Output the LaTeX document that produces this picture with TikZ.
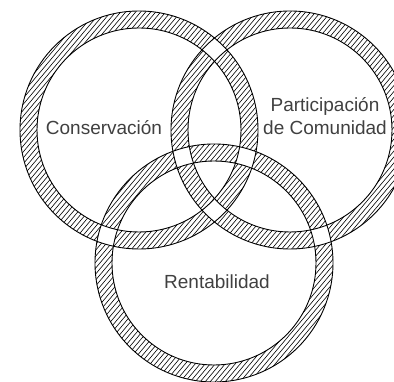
\documentclass[tikz,border=0pt]{standalone}
\usepackage{fontspec}
\setmainfont{Liberation Sans}
\begin{document}
\begin{tikzpicture}[x=1pt,y=1pt,
  ring/.style={line width=0.9pt},
  hatch/.style={line width=0.6pt},
  lbl/.style={font=\fontsize{19}{23}\selectfont, text=black!75, align=center, inner sep=0pt}]
\useasboundingbox (0,0) rectangle (394,382);
\clip (0,0) rectangle (394,382);
\coordinate (A) at (139,252);
\coordinate (B) at (290,252);
\coordinate (C) at (214,119);
\begin{scope}[even odd rule]
\clip (A) circle (119) (A) circle (102)
      (B) circle (119) (B) circle (102)
      (C) circle (119) (C) circle (102);
\foreach \i in {-400,-395,...,400} \draw[hatch] (\i,0) -- ++(330,393);
\end{scope}
\foreach \c in {A,B,C} {
  \draw[ring] (\c) circle (119);
  \draw[ring] (\c) circle (102);
}
\node[lbl] (cons) at (104,254) {Conservación};
\node[lbl] (part) at (325,265.5) {Participación\\de Comunidad};
\node[lbl] (rent) at (217,100) {Rentabilidad};
\end{tikzpicture}
\end{document}
